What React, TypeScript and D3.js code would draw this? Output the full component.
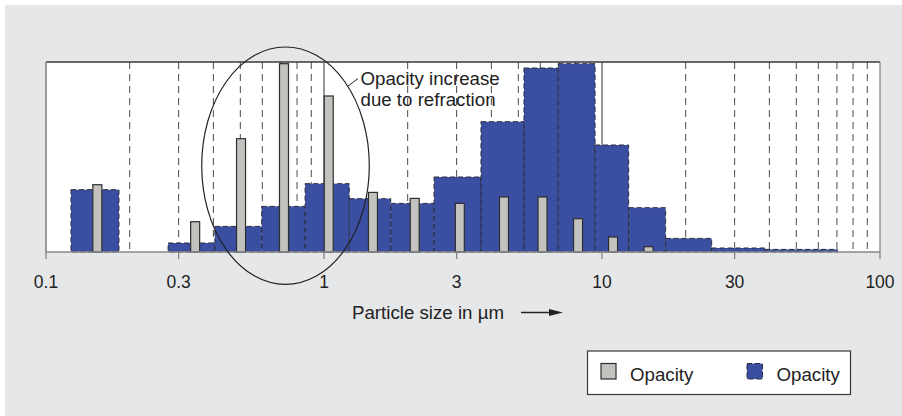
import { scaleLinear, scaleLog } from "d3";

// particle size bins (µm) for the blue histogram
const binStart = [0.123, 0.275, 0.405, 0.597, 0.855, 1.233, 1.738, 2.488, 3.67, 5.24, 6.96, 9.44, 12.47, 16.94, 24.8, 38.6];
const binEnd = [0.183, 0.405, 0.597, 0.855, 1.233, 1.738, 2.488, 3.67, 5.24, 6.96, 9.44, 12.47, 16.94, 24.8, 38.6, 70.2];
const blueValues = [62.3, 9, 25.6, 45.6, 68.3, 53.3, 48.6, 75, 130.3, 184, 188.3, 107, 44.3, 13.6, 4, 2.6];

// narrow grey bars
const greySizes = [0.153, 0.344, 0.503, 0.718, 1.04, 1.5, 2.12, 3.08, 4.44, 6.11, 8.2, 10.96, 14.7];
const greyValues = [67.3, 30.3, 113.3, 188.3, 156, 59.6, 53.6, 48.6, 55, 55, 33.3, 15, 5.3];

const tickValues = [0.1, 0.3, 1, 3, 10, 30, 100];
const tickLabels = ["0.1", "0.3", "1", "3", "10", "30", "100"];
const gridMinor = [0.2, 0.3, 0.4, 0.5, 0.6, 0.7, 0.8, 0.9, 2, 3, 4, 5, 6, 7, 8, 9, 20, 30, 40, 50, 60, 70, 80, 90];
const gridMajor = [1, 10];

const legendLabels = ["Opacity", "Opacity"];

const W = 902;
const H = 416;
const left = 46;
const right = 880;
const top = 62;
const bottom = 252;

const blue = "#3a4fa2";
const greyFill = "#c3c2be";
const font = "'Liberation Sans', Arial, Helvetica, sans-serif";

export default function App() {
  const x = scaleLog().domain([0.1, 100]).range([left, right]);
  const y = scaleLinear().domain([0, 190]).range([bottom, top]);
  const greyW = 9;

  return (
    <svg
      width={W}
      height={H}
      viewBox={`0 0 ${W} ${H}`}
      style={{ position: "absolute", left: 0, top: 0 }}
      fontFamily={font}
    >
      <rect x={0} y={0} width={W} height={H} fill="#ffffff" />
      <rect x={5} y={5} width={W - 5} height={H - 5} fill="#e6e7e9" />
      <rect x={left} y={top} width={right - left} height={bottom - top} fill="#ffffff" />

      {gridMinor.map((v) => (
        <line
          key={"g" + v}
          x1={x(v)}
          x2={x(v)}
          y1={top}
          y2={bottom}
          stroke="#4a4a4a"
          strokeWidth={1}
          strokeDasharray="7 5"
        />
      ))}
      {gridMajor.map((v) => (
        <line key={"m" + v} x1={x(v)} x2={x(v)} y1={top} y2={bottom} stroke="#333" strokeWidth={1} />
      ))}

      {blueValues.map((v, i) => (
        <rect
          key={"b" + i}
          x={x(binStart[i])}
          y={y(v)}
          width={x(binEnd[i]) - x(binStart[i])}
          height={y(0) - y(v)}
          fill={blue}
          stroke="#2b2b36"
          strokeWidth={1}
          strokeDasharray="5 3"
        />
      ))}

      {greyValues.map((v, i) => (
        <rect
          key={"s" + i}
          x={x(greySizes[i]) - greyW / 2}
          y={y(v)}
          width={greyW}
          height={y(0) - y(v)}
          fill={greyFill}
          stroke="#2e2e2e"
          strokeWidth={1.2}
        />
      ))}

      {/* frame */}
      <line x1={left} x2={right} y1={top} y2={top} stroke="#3a3a3a" strokeWidth={1.3} />
      <line x1={left} x2={left} y1={top} y2={bottom} stroke="#7d7d7d" strokeWidth={1.5} />
      <line x1={right} x2={right} y1={top} y2={bottom} stroke="#7d7d7d" strokeWidth={1.2} />
      <line x1={left} x2={right} y1={bottom} y2={bottom} stroke="#8a8a8a" strokeWidth={1.5} />
      {tickValues.map((v, i) => (
        <g key={"t" + v}>
          <line x1={x(v)} x2={x(v)} y1={bottom} y2={bottom + 7} stroke="#7d7d7d" strokeWidth={1.2} />
          <text x={x(v)} y={288} fontSize={17.5} textAnchor="middle" fill="#222">
            {tickLabels[i]}
          </text>
        </g>
      ))}

      {/* axis label */}
      <text x={352} y={319} fontSize={18.7} fill="#222">
        Particle size in µm
      </text>
      <line x1={521} x2={552} y1={312.5} y2={312.5} stroke="#222" strokeWidth={1.5} />
      <path d="M549,309 L563,312.5 L549,316 Z" fill="#222" />

      {/* annotation */}
      <ellipse cx={x(0.727)} cy={165.7} rx={83.8} ry={118.7} fill="none" stroke="#222" strokeWidth={1.2} />
      <line x1={348} y1={86} x2={358} y2={78.5} stroke="#222" strokeWidth={1} />
      <text x={360.5} y={85} fontSize={18.7} fill="#222">
        Opacity increase
      </text>
      <text x={360.5} y={105.5} fontSize={18.7} fill="#222">
        due to refraction
      </text>

      {/* legend */}
      <rect x={587.5} y={351} width={263} height={43.5} fill="#ffffff" stroke="#3a3a3a" strokeWidth={1.2} />
      <rect x={601} y={363.5} width={15} height={15.5} fill={greyFill} stroke="#2e2e2e" strokeWidth={1.2} />
      <text x={630} y={380.5} fontSize={18.7} fill="#222">
        {legendLabels[0]}
      </text>
      <rect
        x={747}
        y={363.5}
        width={15.5}
        height={15.5}
        fill={blue}
        stroke="#2b2b36"
        strokeWidth={1}
        strokeDasharray="5 3"
      />
      <text x={776.5} y={380.5} fontSize={18.7} fill="#222">
        {legendLabels[1]}
      </text>
    </svg>
  );
}
